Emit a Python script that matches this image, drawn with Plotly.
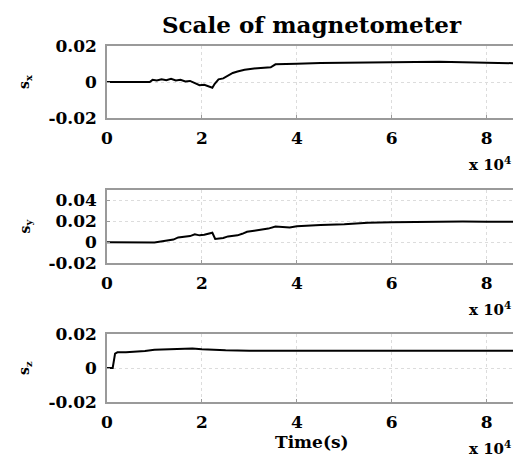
import plotly.graph_objects as go

# ---- data (time in seconds) ----
t_x = [0, 5000, 9000, 9600, 10500, 11500, 12500, 13500, 14500, 15500, 16500, 17500, 18500,
       19500, 20500, 21500, 22200, 22700, 23500, 24500, 25500, 26500, 27500, 29000, 31000,
       33000, 34500, 35500, 37000, 40000, 45000, 50000, 55000, 60000, 65000, 70000, 75000,
       80000, 86400]
s_x = [0, 0, 0, 0.0012, 0.0008, 0.0015, 0.0010, 0.0018, 0.0008, 0.0012, 0.0003, 0.0006, -0.0006,
       -0.0018, -0.0015, -0.0024, -0.0032, -0.0010, 0.0015, 0.0020, 0.0035, 0.0050, 0.0058, 0.0068, 0.0075,
       0.0078, 0.0082, 0.0098, 0.0100, 0.0102, 0.0105, 0.0107, 0.0109, 0.0110, 0.0111, 0.0112, 0.0110,
       0.0107, 0.0104]

t_y = [0, 4000, 8000, 10000, 12000, 13000, 14000, 15000, 16500, 17500, 18500, 19500, 20500,
       21500, 22200, 22800, 23500, 24500, 25500, 26500, 27500, 28500, 29500, 31000, 32500,
       34000, 35500, 37000, 38500, 40000, 42000, 45000, 50000, 55000, 60000, 65000, 70000,
       75000, 80000, 86400]
s_y = [0, 0, -0.0005, -0.0003, 0.001, 0.002, 0.0025, 0.0045, 0.0055, 0.0058, 0.0075, 0.0065, 0.0070,
       0.0085, 0.0090, 0.0030, 0.0035, 0.0040, 0.0055, 0.0058, 0.0065, 0.0080, 0.0100, 0.0110, 0.0118,
       0.0130, 0.0150, 0.0145, 0.0140, 0.0152, 0.0160, 0.0165, 0.0172, 0.0185, 0.0190, 0.0195, 0.0198,
       0.0198, 0.0196, 0.0195]

t_z = [0, 1200, 1700, 2200, 4000, 6000, 8000, 10000, 12000, 14000, 16000, 18000, 20000, 22000,
       25000, 30000, 40000, 50000, 60000, 70000, 80000, 86400]
s_z = [0, 0, 0.0085, 0.0092, 0.0093, 0.0096, 0.0100, 0.0108, 0.0110, 0.0113, 0.0114, 0.0115, 0.0110, 0.0107,
       0.0104, 0.0102, 0.0102, 0.0102, 0.0102, 0.0102, 0.0102, 0.0102]

x_ticks = [0, 20000, 40000, 60000, 80000]
x_tick_text = ["0", "2", "4", "6", "8"]
y_ranges = [[-0.02, 0.02], [-0.02, 0.05], [-0.02, 0.02]]
y_ticks = [[-0.02, 0, 0.02], [-0.02, 0, 0.02, 0.04], [-0.02, 0, 0.02]]
y_tick_text = [["-0.02", "0", "0.02"], ["-0.02", "0", "0.02", "0.04"], ["-0.02", "0", "0.02"]]
labels = ["s<sub>x</sub>", "s<sub>y</sub>", "s<sub>z</sub>"]

# the page body adds an 8px offset; size the figure to fill the rest of the window
OFF = 8
W, H = 521 - OFF, 459 - OFF
FONT = "DejaVu Serif"

def xp(px):
    return (px - OFF) / W

def yp(px):
    return 1 - (px - OFF) / H

# pixel boxes (top, bottom) in window coordinates
boxes = [(46, 118), (190, 263), (334, 402)]
xl, xr = xp(107), xp(517)

fig = go.Figure()
series = [(t_x, s_x), (t_y, s_y), (t_z, s_z)]
annotations = []
for i, (tt, ss) in enumerate(series):
    n = "" if i == 0 else str(i + 1)
    fig.add_trace(go.Scatter(x=tt, y=ss, mode="lines", line=dict(color="black", width=2),
                             xaxis="x" + n, yaxis="y" + n, showlegend=False))
    top, bot = boxes[i]
    fig.layout["xaxis" + n] = dict(
        domain=[xl, xr], anchor="y" + n, range=[0, 86400], tickvals=x_ticks, ticktext=x_tick_text,
        automargin=False,
        showgrid=True, gridcolor="#dcdcdc", griddash="dot", gridwidth=1,
        showline=True, linecolor="#9a9a9a", linewidth=1.5, mirror=True,
        ticks="inside", ticklen=3, tickcolor="#9a9a9a", zeroline=False, ticklabelstandoff=4,
        tickfont=dict(family=FONT, size=17, color="black", weight="bold"))
    fig.layout["yaxis" + n] = dict(
        domain=[yp(bot), yp(top)], anchor="x" + n, range=y_ranges[i],
        tickvals=y_ticks[i], ticktext=y_tick_text[i], automargin=False,
        showgrid=True, gridcolor="#dcdcdc", griddash="dot", gridwidth=1,
        showline=True, linecolor="#9a9a9a", linewidth=1.5, mirror=True,
        ticks="inside", ticklen=3, tickcolor="#9a9a9a", zeroline=False, ticklabelstandoff=5,
        tickfont=dict(family=FONT, size=17, color="black", weight="bold"))
    annotations.append(dict(text=labels[i], x=xp(25), y=yp((top + bot) / 2), xref="paper", yref="paper",
                            xanchor="center", yanchor="middle", showarrow=False, textangle=-90,
                            font=dict(family=FONT, size=14, color="black", weight="bold")))
    annotations.append(dict(text="x 10<sup>4</sup>", x=xp(490), y=yp(bot + 46), xref="paper", yref="paper",
                            xanchor="center", yanchor="middle", showarrow=False,
                            font=dict(family=FONT, size=15, color="black", weight="bold")))

annotations.append(dict(text="Time(s)", x=xp(312), y=yp(442), xref="paper", yref="paper", showarrow=False,
                        xanchor="center", yanchor="middle",
                        font=dict(family=FONT, size=17, color="black", weight="bold")))
annotations.append(dict(text="Scale of magnetometer", x=xp(312), y=yp(24), xref="paper", yref="paper",
                        xanchor="center", yanchor="middle", showarrow=False,
                        font=dict(family=FONT, size=23, color="black", weight="bold")))

fig.update_layout(width=W, height=H, margin=dict(l=0, r=0, t=0, b=0),
                  paper_bgcolor="white", plot_bgcolor="white", annotations=annotations)

fig.write_html("out.html")
